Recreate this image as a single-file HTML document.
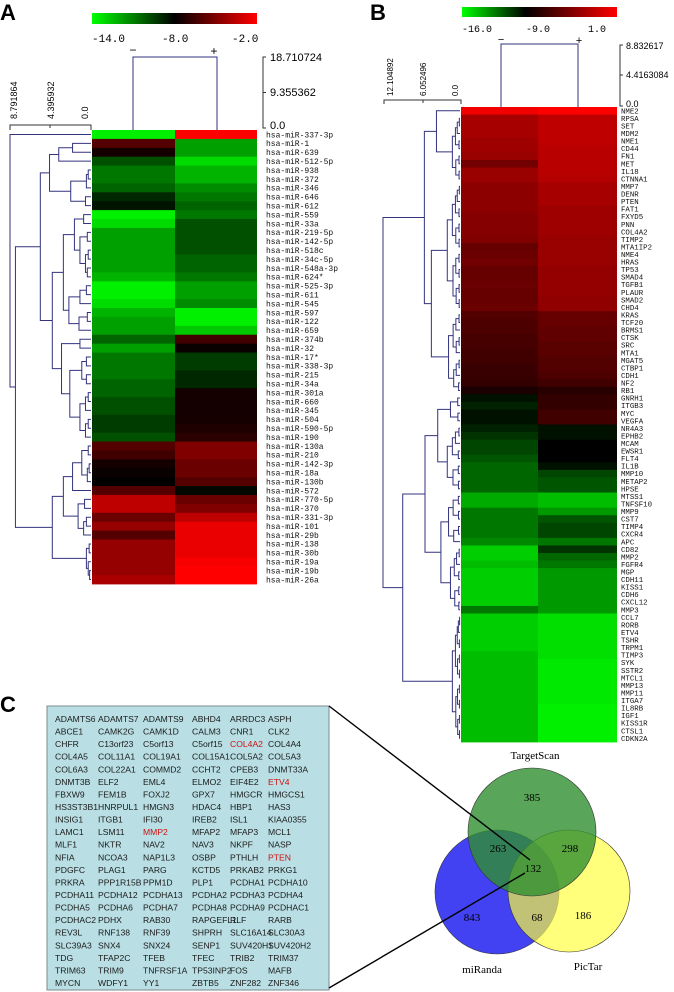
<!DOCTYPE html>
<html><head><meta charset="utf-8"><style>
html,body{margin:0;padding:0;background:#fff;}
svg{display:block;}
.mono{font-family:"Liberation Mono",monospace;}
.sans{font-family:"Liberation Sans",sans-serif;}
.serif{font-family:"Liberation Serif",serif;}
</style></head><body>
<svg id="fig" width="674" height="992" viewBox="0 0 674 992" xmlns="http://www.w3.org/2000/svg">
<defs>
<linearGradient id="gA" x1="0" x2="1" y1="0" y2="0"><stop offset="0" stop-color="#00ff00"/><stop offset="0.5" stop-color="#000"/><stop offset="1" stop-color="#ff0000"/></linearGradient>
<linearGradient id="gB" x1="0" x2="1" y1="0" y2="0"><stop offset="0" stop-color="#00ff00"/><stop offset="0.41" stop-color="#000"/><stop offset="1" stop-color="#ff0000"/></linearGradient>
</defs>
<g>
<text x="0" y="20" class="sans" font-size="22" font-weight="bold">A</text>
<rect x="92" y="13" width="165" height="11" fill="url(#gA)"/>
<text x="92" y="42" class="mono" font-size="11">-14.0</text>
<text x="162" y="42" class="mono" font-size="11">-8.0</text>
<text x="232" y="42" class="mono" font-size="11">-2.0</text>
<text x="133" y="54" class="mono" font-size="12" text-anchor="middle">−</text>
<text x="214" y="55" class="mono" font-size="12" text-anchor="middle">+</text>
<path d="M133 130V57H217V130" fill="none" stroke="#33337f"/>
<path d="M266 57H263V128H266M263 92.5H266" fill="none" stroke="#333"/>
<text x="270" y="61" class="sans" font-size="11">18.710724</text>
<text x="270" y="96" class="sans" font-size="11">9.355362</text>
<text x="270" y="129" class="sans" font-size="11">0.0</text>
<path d="M10 130V125H91V130M50 125V128" fill="none" stroke="#333"/>
<text transform="translate(17,119) rotate(-90)" class="sans" font-size="9">8.791864</text>
<text transform="translate(54,119) rotate(-90)" class="sans" font-size="9">4.395932</text>
<text transform="translate(88,119) rotate(-90)" class="sans" font-size="9">0.0</text>
<g id="heatA"></g>
<g id="dendA"></g>
<g id="labA"></g>
</g>
<g>
<text x="370" y="20" class="sans" font-size="22" font-weight="bold">B</text>
<rect x="462" y="7" width="155" height="10" fill="url(#gB)"/>
<text x="462" y="32" class="mono" font-size="10">-16.0</text>
<text x="526" y="32" class="mono" font-size="10">-9.0</text>
<text x="588" y="32" class="mono" font-size="10">1.0</text>
<text x="501" y="43" class="mono" font-size="11" text-anchor="middle">−</text>
<text x="579" y="44" class="mono" font-size="11" text-anchor="middle">+</text>
<path d="M501 107V44H578V107" fill="none" stroke="#33337f"/>
<path d="M623 45H620V106H623M620 75H623" fill="none" stroke="#333"/>
<text x="626" y="49" class="sans" font-size="9">8.832617</text>
<text x="626" y="78" class="sans" font-size="9">4.4163084</text>
<text x="626" y="107" class="sans" font-size="9">0.0</text>
<path d="M384 104V100H461V104M423 100V103" fill="none" stroke="#333"/>
<text transform="translate(393,96) rotate(-90)" class="sans" font-size="8">12.104892</text>
<text transform="translate(426,96) rotate(-90)" class="sans" font-size="8">6.052496</text>
<text transform="translate(458,96) rotate(-90)" class="sans" font-size="8">0.0</text>
<g id="heatB"></g>
<g id="dendB"></g>
<g id="labB"></g>
</g>
<g>
<text x="0" y="712" class="sans" font-size="22" font-weight="bold">C</text>
<rect x="47" y="706" width="282" height="284" fill="#b9dfe4" stroke="#7a8a8e" stroke-width="1"/>
<g id="genes"></g>
<circle cx="497" cy="892" r="62" fill="#4242f2" stroke="#333" stroke-width="0.6"/>
<circle cx="569" cy="891" r="61" fill="#ffff3c" fill-opacity="0.68" stroke="#333" stroke-width="0.6"/>
<circle cx="532" cy="832" r="64" fill="#2f8f2f" fill-opacity="0.8" stroke="#333" stroke-width="0.6"/>
<g class="serif" font-size="11" text-anchor="middle">
<text x="535" y="759">TargetScan</text>
<text x="482" y="973">miRanda</text>
<text x="588" y="970">PicTar</text>
<text x="532" y="801">385</text>
<text x="498" y="852">263</text>
<text x="570" y="852">298</text>
<text x="533" y="872">132</text>
<text x="472" y="921">843</text>
<text x="537" y="921">68</text>
<text x="583" y="919">186</text>
</g>
<line x1="329" y1="706" x2="530" y2="860" stroke="#000" stroke-width="1.4"/>
<line x1="329" y1="988" x2="525" y2="873" stroke="#000" stroke-width="1.4"/>
</g>
</svg>
<script>
var NS="http://www.w3.org/2000/svg";
// ---- Panel A data ----
var labelsA=["hsa-miR-337-3p","hsa-miR-1","hsa-miR-639","hsa-miR-512-5p","hsa-miR-938","hsa-miR-372","hsa-miR-346","hsa-miR-646","hsa-miR-612","hsa-miR-559","hsa-miR-33a","hsa-miR-219-5p","hsa-miR-142-5p","hsa-miR-518c","hsa-miR-34c-5p","hsa-miR-548a-3p","hsa-miR-624*","hsa-miR-525-3p","hsa-miR-611","hsa-miR-545","hsa-miR-597","hsa-miR-122","hsa-miR-659","hsa-miR-374b","hsa-miR-32","hsa-miR-17*","hsa-miR-338-3p","hsa-miR-215","hsa-miR-34a","hsa-miR-301a","hsa-miR-660","hsa-miR-345","hsa-miR-504","hsa-miR-590-5p","hsa-miR-190","hsa-miR-130a","hsa-miR-210","hsa-miR-142-3p","hsa-miR-18a","hsa-miR-130b","hsa-miR-572","hsa-miR-770-5p","hsa-miR-370","hsa-miR-331-3p","hsa-miR-101","hsa-miR-29b","hsa-miR-138","hsa-miR-30b","hsa-miR-19a","hsa-miR-19b","hsa-miR-26a"];
var valuesAminus=[-14,-6,-7.5,-10,-11,-11,-10.5,-9,-8.5,-14,-13.5,-12,-12,-12,-12,-12,-12.5,-14,-14,-13.5,-12.5,-12,-12,-10.5,-12,-11,-11,-11,-10.5,-10.5,-10,-10,-9.5,-9.5,-10,-6,-6.5,-7.5,-7.8,-8,-6,-3.5,-3.5,-5.5,-4.5,-6,-4.5,-4.5,-4.5,-4.5,-4];
var valuesAplus=[-2,-12,-12,-13.5,-12.5,-12.5,-11.5,-11,-10.5,-11,-10,-10,-10,-10,-10.5,-10.5,-11,-12,-12,-11.5,-14,-14,-13,-6.5,-7.8,-9.5,-9.5,-9,-9,-7.5,-7.5,-7.5,-7.5,-7.3,-7,-5,-5,-5.5,-5.5,-6,-8.2,-5.5,-5,-3.5,-2.5,-2.5,-2.5,-2.5,-2.2,-2,-2];
var scaleA=[-14,-8,-2];
var treeA=[8.79,0,[8.2,
 [5.5,[4.5,[3.5,[2.0,1,2],3],[2.2,[0.5,[0.3,4,5],6],[0.6,7,8]]],
      [4.2,[3.0,[1.8,[0.8,9,10],[1.2,[0.4,11,12],[0.6,[0.3,13,14],[0.4,15,16]]]],[2.4,[1.2,[0.5,17,18],19],[1.3,[0.4,20,21],22]]],
           [3.2,[1.2,23,24],[2.3,[1.0,[0.5,25,26],[0.5,27,28]],[1.2,[0.6,[0.3,29,30],31],[0.6,[0.3,32,33],34]]]]]],
 [4.2,[3.0,[2.0,[1.0,[0.3,35,36],[0.4,[0.2,37,38],39]],40],[1.4,[0.7,41,42],[0.8,[0.5,43,44],45]]],[0.5,[0.2,46,47],[0.3,48,[0.15,49,50]]]]]];
// ---- Panel B data ----
var labelsB=["NME2","RPSA","SET","MDM2","NME1","CD44","FN1","MET","IL18","CTNNA1","MMP7","DENR","PTEN","FAT1","FXYD5","PNN","COL4A2","TIMP2","MTA1IP2","NME4","HRAS","TP53","SMAD4","TGFB1","PLAUR","SMAD2","CHD4","KRAS","TCF20","BRMS1","CTSK","SRC","MTA1","MGAT5","CTBP1","CDH1","NF2","RB1","GNRH1","ITGB3","MYC","VEGFA","NR4A3","EPHB2","MCAM","EWSR1","FLT4","IL1B","MMP10","METAP2","HPSE","MTSS1","TNFSF10","MMP9","CST7","TIMP4","CXCR4","APC","CD82","MMP2","FGFR4","MGP","CDH11","KISS1","CDH6","CXCL12","MMP3","CCL7","RORB","ETV4","TSHR","TRPM1","TIMP3","SYK","SSTR2","MTCL1","MMP13","MMP11","ITGA7","IL8RB","IGF1","KISS1R","CTSL1","CDKN2A"];
var valuesBminus=[0.5,-2.5,-2.5,-2.5,-2.8,-2.8,-3,-4.5,-3,-3,-3.5,-3.5,-3.5,-3.5,-3.8,-3.8,-3.8,-4,-5,-4.8,-4.5,-5,-5,-4.8,-5,-5,-4.8,-5.8,-6,-6,-6.2,-6.2,-6.5,-6.5,-6.8,-6.8,-7,-8,-9.5,-10,-9.5,-9.5,-10,-10.5,-11,-11,-11.5,-12,-12,-12,-12,-14,-14,-12.5,-12.5,-12.5,-12.5,-13,-15,-15,-14.5,-15,-15,-15,-15,-15,-12.5,-15,-15,-15,-15,-15,-14.5,-14.5,-14.5,-14.5,-14.5,-14.5,-14.5,-14.5,-14.5,-14.5,-14.5,-14.5];
var valuesBplus=[1,-1.5,-1.5,-1.5,-1.5,-1.8,-1.8,-1.8,-1.8,-2,-2.5,-2.5,-2.5,-2.8,-2.8,-2.8,-2.8,-3,-3,-3,-3,-3.2,-3.2,-3.2,-3.2,-3.3,-3.3,-5,-5,-5.2,-5.2,-5.5,-5.5,-5.8,-5.8,-6,-6.5,-7.5,-7,-7,-6.5,-6.5,-9.5,-9.5,-9,-9,-9,-9.5,-11,-11.5,-11.5,-14.5,-14.5,-13.5,-11.5,-11,-11,-12.5,-10.5,-12,-12.5,-13.5,-13.5,-13.5,-13.5,-13.5,-13.5,-15.5,-15.5,-15.5,-15.5,-15.5,-15.5,-15.8,-15.8,-15.8,-15.8,-15.8,-15.8,-16,-16,-16,-16,-16];
var scaleB=[-16,-9,1];
function cl(a,b,h){ if(a===b) return a; if(b===a+1) return [h*0.4,a,b]; var m=Math.floor((a+b)/2); return [h,cl(a,m,h*0.6),cl(m+1,b,h*0.55)]; }
var treeB=[12.1,[5.6,[3.7,0,cl(1,9,1.2)],[4.5,cl(10,26,2.0),cl(27,37,1.8)]],[9.0,[5.5,[3.5,cl(38,41,1.5),cl(42,50,2.0)],[3.0,cl(51,57,1.8),cl(58,66,1.5)]],cl(67,83,1.2)]];
// ---- Panel C data ----
var geneRows=[["ADAMTS6","ADAMTS7","ADAMTS9","ABHD4","ARRDC3","ASPH"],["ABCE1","CAMK2G","CAMK1D","CALM3","CNR1","CLK2"],["CHFR","C13orf23","C5orf13","C5orf15","COL4A2","COL4A4"],["COL4A5","COL11A1","COL19A1","COL15A1","COL5A2","COL5A3"],["COL6A3","COL22A1","COMMD2","CCHT2","CPEB3","DNMT33A"],["DNMT3B","ELF2","EML4","ELMO2","EIF4E2","ETV4"],["FBXW9","FEM1B","FOXJ2","GPX7","HMGCR","HMGCS1"],["HS3ST3B1","HNRPUL1","HMGN3","HDAC4","HBP1","HAS3"],["INSIG1","ITGB1","IFI30","IREB2","ISL1","KIAA0355"],["LAMC1","LSM11","MMP2","MFAP2","MFAP3","MCL1"],["MLF1","NKTR","NAV2","NAV3","NKPF","NASP"],["NFIA","NCOA3","NAP1L3","OSBP","PTHLH","PTEN"],["PDGFC","PLAG1","PARG","KCTD5","PRKAB2","PRKG1"],["PRKRA","PPP1R15B","PPM1D","PLP1","PCDHA1","PCDHA10"],["PCDHA11","PCDHA12","PCDHA13","PCDHA2","PCDHA3","PCDHA4"],["PCDHA5","PCDHA6","PCDHA7","PCDHA8","PCDHA9","PCDHAC1"],["PCDHAC2","PDHX","RAB30","RAPGEFL1","RLF","RARB"],["REV3L","RNF138","RNF39","SHPRH","SLC16A14","SLC30A3"],["SLC39A3","SNX4","SNX24","SENP1","SUV420H1","SUV420H2"],["TDG","TFAP2C","TFEB","TFEC","TRIB2","TRIM37"],["TRIM63","TRIM9","TNFRSF1A","TP53INP2","FOS","MAFB"],["MYCN","WDFY1","YY1","ZBTB5","ZNF282","ZNF346"]];
var redGenes=["COL4A2","ETV4","MMP2","PTEN"];

function colorOf(v,s){var r=0,g=0;if(v<s[1]){g=Math.round(240*Math.min(1,(s[1]-v)/(s[1]-s[0])));}else{r=Math.round(255*Math.min(1,(v-s[1])/(s[2]-s[1])));}return "rgb("+r+","+g+",0)";}
function mk(tag,attrs,parent){var e=document.createElementNS(NS,tag);for(var k in attrs)e.setAttribute(k,attrs[k]);parent.appendChild(e);return e;}

function heat(gid,lid,labels,v1,v2,sc,x0,split,x1,top,bottom,lx,fs){
  var g=document.getElementById(gid),lg=document.getElementById(lid);
  var rh=(bottom-top)/labels.length;
  for(var i=0;i<labels.length;i++){
    var y=top+i*rh;
    var a=mk("rect",{x:x0,y:y,width:split-x0,height:rh+0.4,fill:colorOf(v1[i],sc)},g);
    
    
    var b=mk("rect",{x:split,y:y,width:x1-split,height:rh+0.4,fill:colorOf(v2[i],sc)},g);
    
    
    var t=mk("text",{x:lx,y:y+rh/2+fs*0.35,"class":"mono","font-size":fs,fill:"#111"},lg);
    t.textContent=labels[i];
    
    
  }
  return rh;
}
function dendro(gid,tree,xr,scale,top,rh){
  var g=document.getElementById(gid);var d="";
  function walk(n){
    if(typeof n==="number") return {x:xr,y:top+(n+0.5)*rh};
    var a=walk(n[1]),b=walk(n[2]);var x=xr-n[0]*scale;
    d+="M"+a.x+" "+a.y+"H"+x+"V"+b.y+"H"+b.x;
    return {x:x,y:(a.y+b.y)/2};
  }
  walk(tree);
  var p=mk("path",{d:d,fill:"none",stroke:"#33337f","stroke-width":1},g);
  
  
}
var rhA=heat("heatA","labA",labelsA,valuesAminus,valuesAplus,scaleA,92,175,257,130,584,266,8);
dendro("dendA",treeA,91,81/8.79,130,rhA);
var rhB=heat("heatB","labB",labelsB,valuesBminus,valuesBplus,scaleB,461,538,617,107,742,621,7.4);
dendro("dendB",treeB,460,77/12.1,107,rhB);

var cols=[55,98,143,192,230,268];
var gg=document.getElementById("genes");
for(var r=0;r<geneRows.length;r++){
  for(var c=0;c<geneRows[r].length;c++){
    var name=geneRows[r][c];
    var t=mk("text",{x:cols[c],y:722+r*12.57,"class":"sans","font-size":8.6,fill:redGenes.indexOf(name)>=0?"#cc1111":"#1a1a1a"},gg);
    t.textContent=name;
    
    
  }
}
</script>
</body></html>
